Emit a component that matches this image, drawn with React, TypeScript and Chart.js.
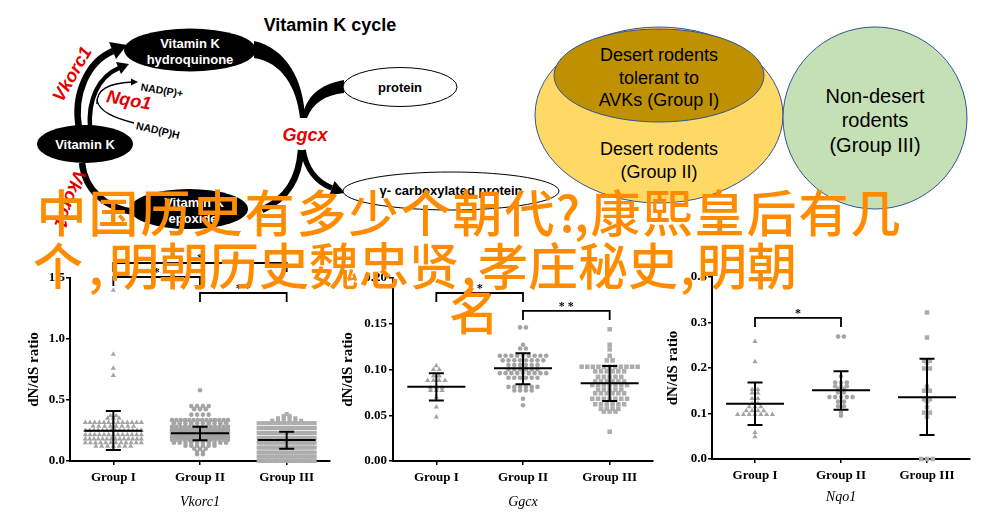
import React, { useEffect, useRef } from "react";
import { Chart, registerables } from "chart.js";
Chart.register(...registerables);

// ---------- data ----------
const categories = ["Group I", "Group II", "Group III"];
const yAxisTitle = "dN/dS ratio";

// rows: [dN/dS value, number of species plotted at that value]
const vkorc1GroupI: [number, number][] = [[1.40, 1], [0.875, 1], [0.76, 1], [0.70, 1], [0.37, 2], [0.35, 3], [0.315, 13], [0.285, 8], [0.25, 14], [0.215, 13], [0.18, 14], [0.15, 12], [0.12, 7]];
const vkorc1GroupII: [number, number][] = [[0.58, 1], [0.45, 4], [0.425, 3], [0.38, 4], [0.335, 14], [0.31, 10], [0.28, 14], [0.255, 18], [0.235, 20], [0.215, 20], [0.195, 18], [0.175, 14], [0.15, 10], [0.125, 6], [0.1, 3], [0.075, 2], [0.055, 2]];
const vkorc1GroupIII: [number, number][] = [[0.385, 1], [0.37, 2], [0.35, 4], [0.33, 6], [0.31, 16], [0.27, 22], [0.23, 24], [0.19, 24], [0.15, 24], [0.11, 24], [0.07, 22], [0.035, 20], [0.0, 16]];
const vkorc1Mean = [0.248, 0.227, 0.172];
const vkorc1SdLow = [0.09, 0.17, 0.101];
const vkorc1SdHigh = [0.41, 0.281, 0.24];
const vkorc1YTicks = [0, 0.5, 1.0, 1.5];

const ggcxGroupI: [number, number][] = [[0.104, 1], [0.1, 2], [0.093, 2], [0.088, 4], [0.08, 3], [0.077, 3], [0.07, 1], [0.059, 1], [0.048, 1]];
const ggcxGroupII: [number, number][] = [[0.146, 2], [0.127, 1], [0.123, 2], [0.115, 9], [0.11, 8], [0.105, 6], [0.1, 6], [0.096, 9], [0.091, 6], [0.081, 6], [0.077, 4], [0.068, 1], [0.061, 1]];
const ggcxGroupIII: [number, number][] = [[0.144, 1], [0.127, 1], [0.122, 1], [0.115, 1], [0.11, 2], [0.103, 11], [0.098, 6], [0.092, 5], [0.087, 6], [0.083, 7], [0.078, 5], [0.074, 6], [0.068, 7], [0.062, 6], [0.057, 4], [0.054, 3], [0.032, 1]];
const ggcxMean = [0.0812, 0.1013, 0.0849];
const ggcxSdLow = [0.066, 0.0838, 0.0656];
const ggcxSdHigh = [0.0958, 0.1177, 0.1038];
const ggcxYTicks = [0, 0.05, 0.1, 0.15, 0.2];

const nqo1GroupI: [number, number][] = [[0.258, 1], [0.214, 1], [0.153, 2], [0.145, 2], [0.133, 2], [0.122, 2], [0.115, 3], [0.106, 4], [0.098, 7], [0.058, 1], [0.049, 1]];
const nqo1GroupII: [number, number][] = [[0.269, 2], [0.182, 1], [0.168, 3], [0.16, 3], [0.153, 2], [0.146, 2], [0.136, 5], [0.126, 2], [0.116, 2], [0.102, 1], [0.095, 1]];
const nqo1GroupIII: [number, number][] = [[0.322, 1], [0.267, 1], [0.216, 2], [0.212, 1], [0.199, 2], [0.159, 1], [0.15, 2], [0.131, 2], [0.126, 1], [0.114, 1], [0.102, 2], [0.093, 1], [0, 3]];
const nqo1Mean = [0.1216, 0.151, 0.1355];
const nqo1SdLow = [0.0747, 0.1084, 0.0527];
const nqo1SdHigh = [0.168, 0.1927, 0.2205];
const nqo1YTicks = [0, 0.1, 0.2, 0.3, 0.4];

// significance brackets: group indices, level (in dN/dS units), label
const vkorc1Sig = [{ from: 0, to: 2, level: 1.623, label: "*" }, { from: 0, to: 1, level: 1.508, label: "*" }, { from: 1, to: 2, level: 1.377, label: "* *" }];
const ggcxSig = [{ from: 0, to: 1, level: 0.1836, label: "*" }, { from: 1, to: 2, level: 0.164, label: "* *" }];
const nqo1Sig = [{ from: 0, to: 1, level: 0.31, label: "*" }];

const titleLine1 = "中国历史有多少个朝代?,康熙皇后有几";
const titleLine2 = "个,明朝历史魏忠贤,孝庄秘史,明朝";
const titleLine3 = "名";

// ---------- layout helpers ----------
const SERIF = '"Liberation Serif", "Times New Roman", serif';
const SANS = '"Liberation Sans", Arial, sans-serif';

function swarm(rows: [number, number][], group: number, pxPerUnit: number) {
  const spacing = 5.8;
  const half = 28;
  const pts: { x: number; y: number }[] = [];
  for (const [v, n] of rows) {
    const step = n > 1 ? Math.min(spacing, (2 * half) / (n - 1)) : 0;
    for (let i = 0; i < n; i++) {
      const off = (i - (n - 1) / 2) * step;
      pts.push({ x: group + off / pxPerUnit, y: v });
    }
  }
  return pts;
}

type Spec = {
  gene: string;
  groups: [number, number][][];
  mean: number[];
  low: number[];
  high: number[];
  sig: { from: number; to: number; level: number; label: string }[];
  yTicks: number[];
  decimals: number;
  left: number; top: number; w: number; h: number;
  yWidth: number; xHeight: number; padTop: number; padRight: number;
  yTitlePad: number; xTitlePad: number; yTickPad: number;
  radii: number[];
};

const specs: Spec[] = [
  {
    gene: "Vkorc1", groups: [vkorc1GroupI, vkorc1GroupII, vkorc1GroupIII], mean: vkorc1Mean, low: vkorc1SdLow, high: vkorc1SdHigh,
    sig: vkorc1Sig, yTicks: vkorc1YTicks, decimals: 1,
    left: 0, top: 240, w: 335, h: 278, yWidth: 70, xHeight: 57, padTop: 38, padRight: 5, yTitlePad: 25, xTitlePad: 7.6, yTickPad: 1,
    radii: [3, 2.3, 2.9],
  },
  {
    gene: "Ggcx", groups: [ggcxGroupI, ggcxGroupII, ggcxGroupIII], mean: ggcxMean, low: ggcxSdLow, high: ggcxSdHigh,
    sig: ggcxSig, yTicks: ggcxYTicks, decimals: 2,
    left: 335, top: 240, w: 325, h: 278, yWidth: 58, xHeight: 57, padTop: 38, padRight: 7, yTitlePad: 4, xTitlePad: 7.6, yTickPad: 2,
    radii: [3, 2.3, 3.2],
  },
  {
    gene: "Nqo1", groups: [nqo1GroupI, nqo1GroupII, nqo1GroupIII], mean: nqo1Mean, low: nqo1SdLow, high: nqo1SdHigh,
    sig: nqo1Sig, yTicks: nqo1YTicks, decimals: 1,
    left: 660, top: 240, w: 322, h: 278, yWidth: 52, xHeight: 59, padTop: 37, padRight: 12, yTitlePad: 4, xTitlePad: 12.6, yTickPad: 1,
    radii: [3, 2.3, 3.2],
  },
];

const pointStyles = ["triangle", "circle", "rect"];
const pointColors = ["#a4a4a4", "#a4a4a4", "#adadad"];

function annotatePlugin(spec: Spec) {
  return {
    id: "annotate" + spec.gene,
    afterDatasetsDraw(chart: any) {
      const { ctx } = chart;
      const x = chart.scales.x;
      const y = chart.scales.y;
      ctx.save();
      ctx.strokeStyle = "#000";
      ctx.lineWidth = 2;
      spec.mean.forEach((m, i) => {
        const cx = x.getPixelForValue(i);
        const ym = y.getPixelForValue(m);
        const yl = y.getPixelForValue(spec.low[i]);
        const yh = y.getPixelForValue(spec.high[i]);
        ctx.beginPath();
        ctx.moveTo(cx - 29, ym); ctx.lineTo(cx + 29, ym);
        ctx.moveTo(cx, yl); ctx.lineTo(cx, yh);
        ctx.moveTo(cx - 7.5, yl); ctx.lineTo(cx + 7.5, yl);
        ctx.moveTo(cx - 7.5, yh); ctx.lineTo(cx + 7.5, yh);
        ctx.stroke();
      });
      ctx.lineWidth = 1.8;
      ctx.fillStyle = "#000";
      ctx.font = "bold 12px " + SERIF;
      ctx.textAlign = "center";
      ctx.textBaseline = "alphabetic";
      for (const b of spec.sig) {
        const x1 = x.getPixelForValue(b.from);
        const x2 = x.getPixelForValue(b.to);
        const yy = y.getPixelForValue(b.level);
        ctx.beginPath();
        ctx.moveTo(x1, yy + 9); ctx.lineTo(x1, yy); ctx.lineTo(x2, yy); ctx.lineTo(x2, yy + 9);
        ctx.stroke();
        ctx.fillText(b.label, (x1 + x2) / 2, yy - 1);
      }
      ctx.restore();
    },
  };
}

function buildConfig(spec: Spec): any {
  const plotW = spec.w - spec.yWidth - spec.padRight;
  const pxPerUnit = plotW / 3;
  return {
    type: "scatter",
    data: {
      datasets: spec.groups.map((rows, i) => ({
        data: swarm(rows, i, pxPerUnit),
        pointStyle: pointStyles[i],
        pointRadius: spec.radii[i],
        pointBackgroundColor: pointColors[i],
        pointBorderWidth: 0,
        pointBorderColor: "rgba(0,0,0,0)",
        clip: false,
      })),
    },
    options: {
      animation: false,
      responsive: false,
      events: [],
      layout: { padding: { top: spec.padTop, right: spec.padRight, left: 0, bottom: 0 } },
      plugins: { legend: { display: false }, tooltip: { enabled: false } },
      scales: {
        x: {
          type: "linear",
          min: -0.5,
          max: 2.5,
          afterFit: (s: any) => { s.height = spec.xHeight; },
          afterBuildTicks: (s: any) => { s.ticks = [0, 1, 2].map((v) => ({ value: v })); },
          ticks: {
            callback: (v: number) => categories[Math.round(v)],
            color: "#000",
            font: { family: SERIF, size: 13, weight: "bold" },
            padding: 5,
            maxRotation: 0,
            autoSkip: false,
          },
          grid: { display: true, drawOnChartArea: false, drawTicks: true, tickLength: 4, color: "#000", lineWidth: 1.5 },
          border: { display: true, color: "#000", width: 2 },
          title: {
            display: true,
            text: spec.gene,
            color: "#000",
            font: { family: SERIF, size: 14, style: "italic" },
            padding: { top: 0, bottom: spec.xTitlePad },
          },
        },
        y: {
          type: "linear",
          min: spec.yTicks[0],
          max: spec.yTicks[spec.yTicks.length - 1],
          afterFit: (s: any) => { s.width = spec.yWidth; },
          afterBuildTicks: (s: any) => { s.ticks = spec.yTicks.map((v) => ({ value: v })); },
          ticks: {
            callback: (v: number) => Number(v).toFixed(spec.decimals),
            color: "#000",
            font: { family: SERIF, size: 13, weight: "bold" },
            padding: spec.yTickPad,
          },
          grid: { display: true, drawOnChartArea: false, drawTicks: true, tickLength: 4, color: "#000", lineWidth: 1.5 },
          border: { display: true, color: "#000", width: 2 },
          title: {
            display: true,
            text: yAxisTitle,
            color: "#000",
            font: { family: SERIF, size: 15, weight: "bold" },
            padding: { top: spec.yTitlePad, bottom: 0 },
          },
        },
      },
    },
    plugins: [annotatePlugin(spec)],
  };
}

function Panel({ spec }: { spec: Spec }) {
  const ref = useRef<HTMLCanvasElement>(null);
  useEffect(() => {
    const chart = new Chart(ref.current as HTMLCanvasElement, buildConfig(spec));
    return () => chart.destroy();
  }, [spec]);
  return (
    <canvas
      ref={ref}
      width={spec.w}
      height={spec.h}
      style={{ position: "absolute", left: spec.left, top: spec.top, width: spec.w, height: spec.h }}
    />
  );
}

// ---------- diagrams (illustration, not chart data) ----------
function Diagram() {
  const red = "#e40000";
  const outline = "#2f5597";
  return (
    <svg width={982} height={260} style={{ position: "absolute", left: 0, top: 0 }}>
      <text x={330} y={31} fontFamily={SANS} fontWeight="bold" fontSize={18} textAnchor="middle" fill="#000">Vitamin K cycle</text>
      {/* arrows */}
      <path d="M79 128 C 73 95, 87 62, 113 51" stroke="#000" strokeWidth={6.5} fill="none" />
      <polygon points="109,42 127,45 116,59" fill="#000" />
      <path d="M90 128 C 88 100, 98 77, 119 68" stroke="#000" strokeWidth={4.5} fill="none" />
      <polygon points="116,62 129,64 121,74" fill="#000" />
      <path d="M97 104 C 96 90, 108 83, 132 82" stroke="#000" strokeWidth={1.4} fill="none" />
      <polygon points="131,78.5 138,82 131,85.5" fill="#000" />
      <path d="M97 100 C 99 112, 115 118, 134 123" stroke="#000" strokeWidth={1.4} fill="none" />
      <path d="M254 41 C 286 48, 304 80, 305 118 L 300 118 C 297 88, 282 62, 254 58 Z" fill="#000" />
      <path d="M302 118 C 306 97, 318 85, 344 80 L 344 93 C 325 95, 313 103, 307 118 Z" fill="#000" />
      <path d="M303 150 C 306 168, 316 182, 332 188" stroke="#000" strokeWidth={5.5} fill="none" />
      <polygon points="334.5,181 329.5,195 345,193" fill="#000" />
      <path d="M301 150 C 299 178, 288 198, 262 210" stroke="#000" strokeWidth={6.5} fill="none" />
      <path d="M134 212 C 105 208, 85 190, 82 163" stroke="#000" strokeWidth={6.5} fill="none" />
      {/* ellipses */}
      <ellipse cx={190} cy={50} rx={66} ry={21.5} fill="#000" />
      <text x={190} y={48} fontFamily={SANS} fontWeight="bold" fontSize={13} textAnchor="middle" fill="#fff">Vitamin K</text>
      <text x={190} y={64} fontFamily={SANS} fontWeight="bold" fontSize={13} textAnchor="middle" fill="#fff">hydroquinone</text>
      <ellipse cx={85} cy={144} rx={48} ry={19} fill="#000" />
      <text x={85} y={149} fontFamily={SANS} fontWeight="bold" fontSize={13} textAnchor="middle" fill="#fff">Vitamin K</text>
      <ellipse cx={189} cy={209} rx={59} ry={20} fill="#000" />
      <text x={194} y={207} fontFamily={SANS} fontWeight="bold" fontSize={13} textAnchor="middle" fill="#fff">Vitamin K</text>
      <text x={193} y={223} fontFamily={SANS} fontWeight="bold" fontSize={13} textAnchor="middle" fill="#fff">epoxide</text>
      <ellipse cx={400} cy={87} rx={57} ry={19.5} fill="#fff" stroke="#000" strokeWidth={1} />
      <text x={400} y={92} fontFamily={SANS} fontWeight="bold" fontSize={13} textAnchor="middle" fill="#000">protein</text>
      <ellipse cx={451} cy={191} rx={108} ry={19} fill="#fff" stroke="#000" strokeWidth={1} />
      <text x={451} y={195} fontFamily={SANS} fontWeight="bold" fontSize={13} textAnchor="middle" fill="#000">γ- carboxylated protein</text>
      {/* labels */}
      <text x={305} y={141} fontFamily={SANS} fontWeight="bold" fontStyle="italic" fontSize={18} textAnchor="middle" fill={red}>Ggcx</text>
      <text x={0} y={0} transform="translate(72,74) rotate(-60)" fontFamily={SANS} fontWeight="bold" fontStyle="italic" fontSize={18} textAnchor="middle" dominantBaseline="central" fill={red}>Vkorc1</text>
      <text x={0} y={0} transform="translate(129,100) rotate(10)" fontFamily={SANS} fontWeight="bold" fontStyle="italic" fontSize={18} textAnchor="middle" dominantBaseline="central" fill={red}>Nqo1</text>
      <text x={0} y={0} transform="translate(162,90) rotate(9)" fontFamily={SANS} fontWeight="bold" fontSize={10.5} textAnchor="middle" dominantBaseline="central" fill="#000">NAD(P)+</text>
      <text x={0} y={0} transform="translate(158,130) rotate(13)" fontFamily={SANS} fontWeight="bold" fontSize={10.5} textAnchor="middle" dominantBaseline="central" fill="#000">NAD(P)H</text>
      <text x={0} y={0} transform="translate(70,199) rotate(110)" fontFamily={SANS} fontWeight="bold" fontStyle="italic" fontSize={18} textAnchor="middle" dominantBaseline="central" fill={red}>Vkorc1</text>
      {/* rodent groups */}
      <ellipse cx={659} cy={115} rx={124} ry={88} fill="#ffd966" stroke={outline} strokeWidth={1} />
      <ellipse cx={659} cy={75.5} rx={105} ry={46.5} fill="#bf9000" stroke={outline} strokeWidth={1} />
      <ellipse cx={875} cy={118} rx={92} ry={91} fill="#c5e0b4" stroke={outline} strokeWidth={1} />
      <g fontFamily={SANS} fontSize={18} textAnchor="middle" fill="#000">
        <text x={659} y={61}>Desert rodents</text>
        <text x={659} y={83.5}>tolerant to</text>
        <text x={659} y={106}>AVKs (Group I)</text>
        <text x={659} y={155}>Desert rodents</text>
        <text x={659} y={178}>(Group II)</text>
      </g>
      <g fontFamily={SANS} fontSize={20} textAnchor="middle" fill="#000">
        <text x={875} y={103}>Non-desert</text>
        <text x={875} y={127}>rodents</text>
        <text x={875} y={152}>(Group III)</text>
      </g>
    </svg>
  );
}

function TitleLine({ text, left, top, cjk, punct }: { text: string; left: number; top: number; cjk: number; punct: number[] }) {
  let p = 0;
  const chars = Array.from(text).map((ch, i) => {
    const isPunct = ch === "," || ch === "?";
    const w = isPunct ? punct[p++] : cjk;
    return (
      <span key={i} style={{ display: "inline-block", width: w, textAlign: "center" }}>{ch}</span>
    );
  });
  return (
    <div
      style={{
        position: "absolute",
        left,
        top,
        whiteSpace: "nowrap",
        fontFamily: '"Noto Sans CJK SC", sans-serif',
        fontSize: 50,
        lineHeight: "50px",
        fontWeight: 500,
        color: "#ff8c00",
      }}
    >
      {chars}
    </div>
  );
}

export default function App() {
  return (
    <div style={{ position: "fixed", left: 0, top: 0, width: 982, height: 518, background: "#fff", overflow: "hidden" }}>
      <Diagram />
      {specs.map((s) => (
        <Panel key={s.gene} spec={s} />
      ))}
      <TitleLine text={titleLine1} left={35.5} top={185} cjk={52} punct={[18, 16]} />
      <TitleLine text={titleLine2} left={33} top={238} cjk={50} punct={[26, 19, 19]} />
      <TitleLine text={titleLine3} left={449} top={283} cjk={50} punct={[]} />
    </div>
  );
}
